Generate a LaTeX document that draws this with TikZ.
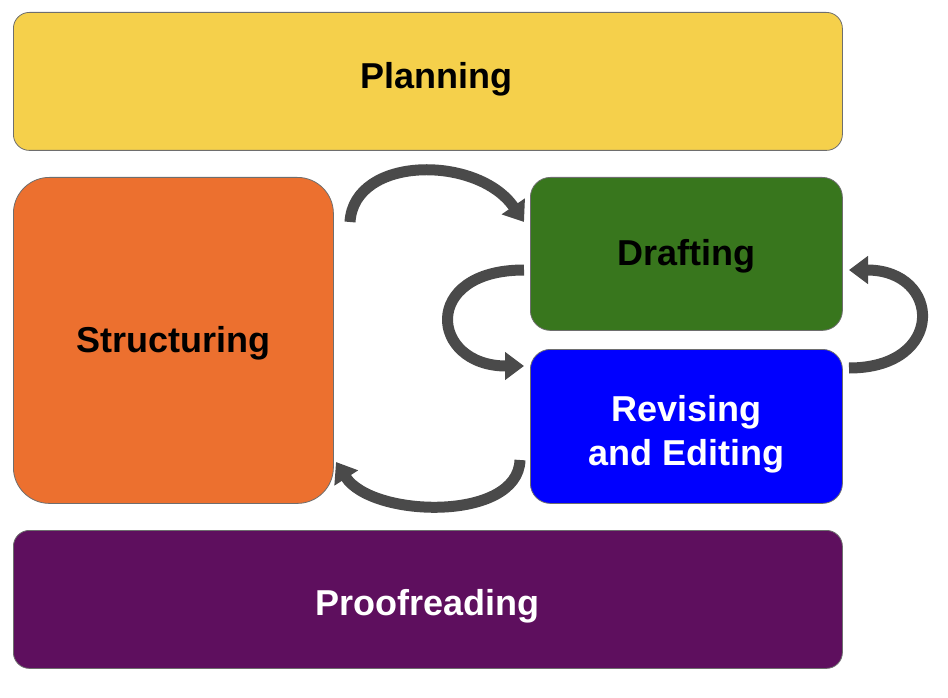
\documentclass[tikz,border=0pt]{standalone}
\usepackage{fontspec}
\setmainfont{Liberation Sans}
\usetikzlibrary{arrows.meta}
\definecolor{cplan}{RGB}{245,208,75}
\definecolor{cstruct}{RGB}{236,112,47}
\definecolor{cdraft}{RGB}{56,118,29}
\definecolor{crev}{RGB}{0,0,255}
\definecolor{cproof}{RGB}{94,15,94}
\definecolor{carrow}{RGB}{74,74,74}
\definecolor{cborder}{RGB}{110,110,110}
\tikzset{
  stagebox/.style={draw=cborder, line width=0.8pt, inner sep=0pt, anchor=north west},
  stagetext/.style={font=\bfseries\fontsize{36}{44}\selectfont, align=center, inner sep=0pt},
  cyclearrow/.style={draw=carrow, line width=11pt, -{Triangle[width=27pt,length=19pt]}},
}
\begin{document}
\begin{tikzpicture}[x=1pt,y=-1pt]
\useasboundingbox (0,0) rectangle (948,698);
\node[stagebox, fill=cplan, rounded corners=16pt, minimum width=829pt, minimum height=138pt,
  label={[stagetext, xshift=9pt, yshift=2pt]center:Planning}] (plan) at (13,12) {};
\node[stagebox, fill=cstruct, rounded corners=36pt, minimum width=320pt, minimum height=326pt,
  label={[stagetext, yshift=-3pt]center:Structuring}] (struct) at (13,177) {};
\node[stagebox, fill=cdraft, rounded corners=20pt, minimum width=312pt, minimum height=153pt,
  label={[stagetext, yshift=-2pt]center:Drafting}] (draft) at (530,177) {};
\node[stagebox, fill=crev, rounded corners=20pt, minimum width=312pt, minimum height=154pt,
  label={[stagetext, text=white, yshift=-8pt]center:Revising\\and Editing}] (rev) at (530,349) {};
\node[stagebox, fill=cproof, rounded corners=16pt, minimum width=829pt, minimum height=138pt,
  label={[stagetext, text=white, yshift=-7pt]center:Proofreading}] (proof) at (13,530) {};

\coordinate (a1s) at (350,222);
\coordinate (a1e) at (524,222);
\coordinate (a2s) at (524,270);
\coordinate (a2e) at (524,366);
\coordinate (a3s) at (849,368);
\coordinate (a3e) at (849,270);
\coordinate (a4s) at (520,460);
\coordinate (a4e) at (336,462);

\draw[cyclearrow] (a1s) .. controls (354,155) and (478,155) .. (a1e);
\draw[cyclearrow] (a2s) .. controls (420,270) and (430,366) .. (a2e);
\draw[cyclearrow] (a3s) .. controls (946,368) and (942,270) .. (a3e);
\draw[cyclearrow] (a4s) .. controls (518,522) and (372,518) .. (a4e);
\end{tikzpicture}
\end{document}
